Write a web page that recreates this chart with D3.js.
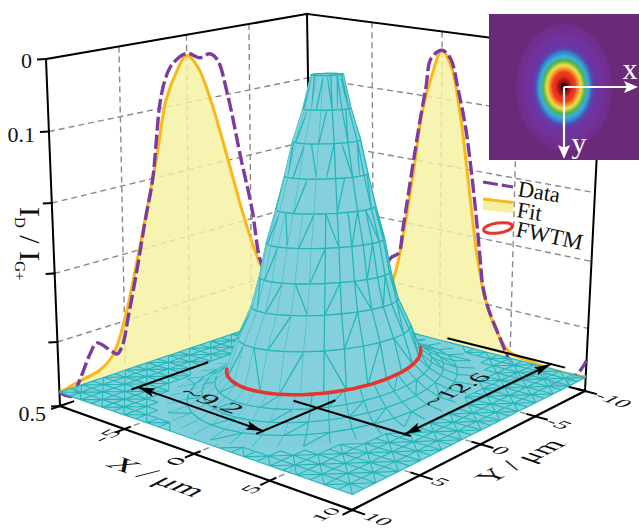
<!DOCTYPE html>
<html><head><meta charset="utf-8">
<script src="https://cdn.jsdelivr.net/npm/d3@7"></script>
<style>html,body{margin:0;padding:0;background:#fff}svg{display:block}text{font-family:"Liberation Serif",serif;fill:#111}</style>
</head><body><svg id="c" width="639" height="528"></svg>
<script>
// ---- values ----
const axisTicks=[-10,-5,0,5,10];
const gridTicks=[-5,0,5];
const depthTicks=[0,0.1,0.2,0.3,0.4,0.5];
const depthLabels=["0","0.1","","","","0.5"];
const floorDepth=0.477;
// profile on the X=-10 wall (along Y)
const leftFitY=[10,9.7,8.45,6.9,5.9,5,4,3.2,2.37,1.6,0.76,0,-0.85,-1.8,-3.18,-4.41,-5.7,-7,-8.5,-10];
const leftFitI=[0.477,0.476,0.47,0.463,0.446,0.399,0.318,0.247,0.169,0.089,0.05,0.03,0.05,0.1,0.198,0.291,0.374,0.43,0.465,0.477];
const leftDataY=[10,9.1,8.45,7.6,7.1,6.1,5.6,5.2,4.7,4,3.3,2.7,2.07,1.67,1.15,0,-1,-1.8,-2.4,-3.2,-4.25,-5.1,-5.7,-6.1,-7.2,-10];
const leftDataI=[0.477,0.49,0.468,0.432,0.42,0.438,0.447,0.437,0.395,0.33,0.258,0.201,0.092,0.06,0.04,0.027,0.037,0.034,0.045,0.1,0.203,0.284,0.367,0.389,0.44,0.476];
// profile on the Y=-10 wall (along X)
const rightFitX=[-10,-8,-6,-5,-4.2,-3.42,-3.13,-2.56,-1.88,-1.38,-0.72,0,0.65,1.32,1.72,2.13,2.55,2.78,3.17,4.04,4.95,6.5,8.1,10];
const rightFitI=[0.477,0.476,0.472,0.465,0.44,0.392,0.367,0.301,0.205,0.127,0.07,0.028,0.051,0.123,0.186,0.256,0.323,0.35,0.389,0.438,0.467,0.474,0.478,0.476];
const rightDataX=[-10,-7,-5,-3.67,-3.07,-2.72,-2.04,-1.58,-1.1,-0.74,0,0.57,1.14,1.66,2.06,2.48,2.83,3,3.38,4.25,5.2,5.67,6.5,6.96,7.6,8.3,9.45,10];
const rightDataI=[0.476,0.47,0.44,0.362,0.351,0.308,0.212,0.148,0.087,0.042,0.028,0.038,0.084,0.137,0.195,0.268,0.337,0.37,0.403,0.447,0.493,0.51,0.499,0.479,0.5,0.502,0.475,0.45];
// mesh rings of the beam surface: ellipse scale and depth of each ring
const ringScale=[0.16,0.24,0.34,0.42,0.505,0.60,0.67,0.75,0.89,1.0,1.12,1.25,1.4,1.6];
const ringDepth=[0.026,0.073,0.118,0.166,0.213,0.26,0.308,0.349,0.392,0.435,0.45,0.462,0.472,0.477];
const ringFlatten=[0.35,0.4,0.45,0.45,0.47,0.47,0.5,0.58,0.7,1,1,1,1,1];
const radiusX=4.37, radiusY=5.985;
const dimXRange=[-3.9,4.75], dimYRange=[6.3,-6.3];
const fwtmLabels=["~9.2","~12.6"];
const fwtmDepth=0.428;
const legendLabels=["Data","Fit","FWTM"];
// inset beam spot contours (half widths, colours)
const insetRadii=[47.6,41,34,29.5,27,25,22.7,20,18,16,13,7.5,4];
const insetColors=["#712e8e","#70309b","#6a36a6","#4a4fb0","#3a8ad0","#35b6e6","#46ad4a","#93c83e","#f6e760","#f7931e","#ee3124","#a31414","#3a0404"];

// ---- camera: corners of the floor and ceiling ----
const floorQuad=[[312,319],[585,391],[352,510],[60,406]];
const ceilQuad=[[307,14],[602,52],[362,118],[46,59]];
function quadMap(q){
  const [[x0,y0],[x1,y1],[x2,y2],[x3,y3]]=q;
  const dx1=x1-x2,dx2=x3-x2,dx3=x0-x1+x2-x3,dy1=y1-y2,dy2=y3-y2,dy3=y0-y1+y2-y3;
  const den=dx1*dy2-dx2*dy1,g=(dx3*dy2-dx2*dy3)/den,h=(dx1*dy3-dx3*dy1)/den;
  const a=x1-x0+g*x1,b=x3-x0+h*x3,d=y1-y0+g*y1,e=y3-y0+h*y3;
  return (u,v)=>{const w=g*u+h*v+1;return [(a*u+b*v+x0)/w,(d*u+e*v+y0)/w];};
}
const xyScale=d3.scaleLinear().domain([-10,10]).range([0,1]);
const heightScale=d3.scalePow().exponent(1.05).domain([0,0.5]).range([0,1]);
const mapFloor=quadMap(floorQuad), mapCeil=quadMap(ceilQuad);
function project(X,Y,I){
  const u=xyScale(X),v=xyScale(Y),f=heightScale(0.5-I);
  const a=mapFloor(u,v+0.12*v*(1-v)*(1-u)),b=mapCeil(u,v+0.05*v*(1-v)*(1-u));
  return [a[0]+(b[0]-a[0])*f,a[1]+(b[1]-a[1])*f];
}
const svg=d3.select("#c");
const pathOf=(pts,close)=>"M"+pts.map(p=>p[0].toFixed(2)+","+p[1].toFixed(2)).join("L")+(close?"Z":"");
const smooth=d3.line().curve(d3.curveCatmullRom.alpha(0.5));
function seg(g,p,q,cls){return g.append("line").attr("x1",p[0]).attr("y1",p[1]).attr("x2",q[0]).attr("y2",q[1]).attr("stroke",cls.c||"#000").attr("stroke-width",cls.w||2).attr("stroke-dasharray",cls.d||null).attr("stroke-linecap",cls.d?"butt":"square");}

// grids
const gGrid=svg.append("g");
const dash={c:"#8a8a8a",w:1.4,d:"6,4"};
depthTicks.slice(1,5).forEach(z=>{
  seg(gGrid,project(-10,10,z),project(-10,-10,z),dash);
  seg(gGrid,project(-10,-10,z),project(10,-10,z),dash);
});
gridTicks.forEach(t=>{
  seg(gGrid,project(-10,t,0),project(-10,t,0.47),dash);
  seg(gGrid,project(t,-10,0),project(t,-10,0.47),dash);
  seg(gGrid,project(t,10,0.5),project(t,8.2,0.5),dash);
  seg(gGrid,project(10,t,0.5),project(8.2,t,0.5),dash);
});
// box frame behind
const gBox=svg.append("g");
[[[-10,10,0],[-10,-10,0]],[[-10,-10,0],[10,-10,0]],[[-10,-10,0],[-10,-10,0.47]],
 [[-10,10,0],[-10,10,0.5]],[[10,-10,0],[10,-10,0.5]],[[-10,10,0.5],[-10,9,0.5]],[[9,-10,0.5],[10,-10,0.5]]]
 .forEach(e=>seg(gBox,project(...e[0]),project(...e[1]),{c:"#000",w:2}));

// wall profiles
const gWall=svg.append("g");
const leftFit=leftFitY.map((y,i)=>project(-10,y,leftFitI[i]));
const leftData=leftDataY.map((y,i)=>project(-10,y,leftDataI[i]));
const rightFit=rightFitX.map((x,i)=>project(x,-10,rightFitI[i]));
const rightData=rightDataX.map((x,i)=>project(x,-10,rightDataI[i]));
const yellow="#f5f09f", orange="#fbb61a", purple="#7a3c9e";
[leftFit,rightFit].forEach(c=>{
  gWall.append("path").attr("d",smooth(c)+"Z").attr("fill",yellow).attr("fill-opacity",0.82);
});
[leftFit,rightFit].forEach(c=>gWall.append("path").attr("d",smooth(c)).attr("fill","none").attr("stroke",orange).attr("stroke-width",3));
[leftData,rightData].forEach(c=>gWall.append("path").attr("d",smooth(c)).attr("fill","none").attr("stroke",purple).attr("stroke-width",3.4).attr("stroke-dasharray","14,4"));

// floor of the surface
const gMesh=svg.append("g");
const teal="#22b6b8", cyan="#84d0dd";
gMesh.append("path").attr("d",pathOf([[-10,-10],[10,-10],[10,10],[-10,10]].map(c=>project(c[0],c[1],floorDepth)),true))
  .attr("fill","#6fcbd8").attr("fill-opacity",0.88).attr("stroke","none");
const nCells=24, gridVals=d3.range(nCells+1).map(i=>-10+i*20/nCells);
const rx=radiusX, ry=radiusY, outer=ringScale[ringScale.length-1];
const outside=(x,y)=>Math.hypot(x/rx,y/ry)>=outer;
let gridPath="";
gridVals.forEach((x,i)=>gridVals.forEach((y,j)=>{
  const x2=gridVals[i+1],y2=gridVals[j+1];
  const P=(a,b)=>project(a,b,floorDepth);
  if(y2!==undefined&&outside(x,y)&&outside(x,y2)) gridPath+=pathOf([P(x,y),P(x,y2)]);
  if(x2!==undefined&&outside(x,y)&&outside(x2,y)) gridPath+=pathOf([P(x,y),P(x2,y)]);
  if(x2!==undefined&&y2!==undefined){
    if((i+j)%2===0){ if(outside(x,y)&&outside(x2,y2)) gridPath+=pathOf([P(x,y),P(x2,y2)]); }
    else { if(outside(x2,y)&&outside(x,y2)) gridPath+=pathOf([P(x2,y),P(x,y2)]); }
  }
}));
gMesh.append("path").attr("d",gridPath).attr("fill","none").attr("stroke",teal).attr("stroke-width",1.1);

// polar part of the surface, painted back to front
const coneRings=9;
function ringProject(k,s,n){
  const t=s/n*2*Math.PI+0.06,X=rx*ringScale[k]*Math.cos(t),Y=ry*ringScale[k]*Math.sin(t);
  const p=project(X,Y,ringDepth[k]),c=project(0,0,ringDepth[k]);
  return {p:[p[0],c[1]+(p[1]-c[1])*ringFlatten[k]],X,Y};
}
const cells=[];
for(let k=0;k<ringScale.length-1;k++){
  const n=k<coneRings?28:40;
  for(let s=0;s<n;s++){
    const q=[ringProject(k,s,n),ringProject(k,s+1,n),ringProject(k+1,s+1,n),ringProject(k+1,s,n)];
    cells.push({k,s,P:q.map(o=>o.p),key:d3.sum(q,o=>o.X+o.Y)/4});
  }
}
cells.sort((p,q)=>p.key-q.key);
const capPts=d3.range(28).map(s=>ringProject(0,s,28).p);
const gCone=svg.append("g");
let capDone=false;
function drawCap(){gCone.append("path").attr("d",pathOf(capPts,true)).attr("fill","#8fd4e0").attr("stroke",teal).attr("stroke-width",1.4);capDone=true;}
cells.forEach(c=>{
  if(!capDone&&c.key>0)drawCap();
  const P=c.P;
  const last=c.k===ringScale.length-2, flat=c.k>=coneRings;
  gCone.append("path").attr("d",pathOf(P,true)).attr("fill",flat?"#7ecfdb":cyan).attr("stroke",flat?"#7ecfdb":cyan).attr("stroke-width",last?0:0.5);
  let e=pathOf([P[0],P[1]]);
  if(!last)e+=pathOf([P[3],P[2]]);
  const coarse=c.k<4;
  if(!coarse||c.s%2===0)e+=pathOf([P[0],P[3]]);
  if(flat){ if((c.s+c.k)%4===0) e+=pathOf([P[0],P[2]]); }
  else if((c.s+c.k)%4===0)e+=pathOf([P[0],P[2]]);
  else if(((c.s-c.k)%4+4)%4===2)e+=pathOf([P[1],P[3]]);
  gCone.append("path").attr("d",e).attr("fill","none").attr("stroke",teal).attr("stroke-width",flat?1.05:1.25);
});

// FWTM ring (near half)
const ringAngles=d3.range(-52,134,4);
svg.append("path").attr("d",d3.line().curve(d3.curveCatmullRom)(ringAngles.map(a=>project(rx*Math.cos(a*Math.PI/180),ry*Math.sin(a*Math.PI/180),ringDepth[9]))))
  .attr("fill","none").attr("stroke","#e5352c").attr("stroke-width",3.6).attr("stroke-linecap","round");

// FWTM dimension marks
const gDim=svg.append("g");
function head(g,tip,tail,color,len,wid){
  const L=Math.hypot(tail[0]-tip[0],tail[1]-tip[1]),u=[(tail[0]-tip[0])/L,(tail[1]-tip[1])/L],n=[-u[1],u[0]];
  g.append("path").attr("d",pathOf([tip,[tip[0]+u[0]*len+n[0]*wid,tip[1]+u[1]*len+n[1]*wid],[tip[0]+u[0]*len*0.8,tip[1]+u[1]*len*0.8],[tip[0]+u[0]*len-n[0]*wid,tip[1]+u[1]*len-n[1]*wid]],true)).attr("fill",color);
}
function dim(p,q){seg(gDim,p,q,{c:"#000",w:2});head(gDim,p,q,"#000",17,4.5);head(gDim,q,p,"#000",17,4.5);}
const black={c:"#000",w:2};
dim(project(dimXRange[0],10,fwtmDepth),project(dimXRange[1],10.2,fwtmDepth));
dim(project(10,dimYRange[0],fwtmDepth),project(10,dimYRange[1],fwtmDepth));
seg(gDim,project(dimXRange[0],10.4,fwtmDepth),project(dimXRange[0],4.9,fwtmDepth),black);
seg(gDim,project(dimXRange[1],10.6,fwtmDepth),project(dimXRange[1],5,fwtmDepth),black);
seg(gDim,project(10.3,dimYRange[0],fwtmDepth),project(3.3,dimYRange[0],fwtmDepth),black);
seg(gDim,project(10.8,dimYRange[1],fwtmDepth),project(3.4,dimYRange[1],fwtmDepth),black);

// text lying on the floor plane
const dirX=[0.94,0.34], dirY=[0.89,-0.46], dirBack=[-0.94,-0.34];
function planeText(str,p,base,up,size,sx,sy,anchor){
  return svg.append("text").text(str).attr("font-size",size).attr("text-anchor",anchor||"middle").attr("dy","0.33em")
   .attr("transform",`matrix(${base[0]*sx},${base[1]*sx},${-up[0]*sy},${-up[1]*sy},${p[0]},${p[1]})`);
}
planeText(fwtmLabels[0],project(0.2,8.9,fwtmDepth),dirX,dirY,24,1.4,0.95);
planeText(fwtmLabels[1],project(8.4,0,fwtmDepth),dirY,dirBack,24,1.2,0.95);

// front axes
const gAxis=svg.append("g");
seg(gAxis,project(-10,10,0.5),project(10,10,0.5),{c:"#000",w:2.2});
seg(gAxis,project(10,10,0.5),project(10,-10,0.5),{c:"#000",w:2.2});
axisTicks.forEach(t=>{
  seg(gAxis,project(t,10,0.5),project(t,10.6,0.5),black);
  seg(gAxis,project(10,t,0.5),project(10.7,t,0.5),black);
  seg(gAxis,project(t,9.6,0.5),project(t,10,0.5),black);
  seg(gAxis,project(9.5,t,0.5),project(10,t,0.5),black);
  if(t>-10) planeText(String(t),t===10?project(9.4,11.1,0.5):project(t,11.3,0.5),dirY,dirBack,t===10?20:22,1.25,0.85);
  planeText(String(t),project(10.85,t,0.5),dirX,dirY,22,1.1,0.85,"start");
});
// depth axis
depthTicks.forEach((z,i)=>{
  const a=project(-10,10,z);
  seg(gAxis,a,[a[0]-8,a[1]+0.5],black);
  if(depthLabels[i]) svg.append("text").text(depthLabels[i]).attr("x",a[0]-14).attr("y",a[1]+9+12*z).attr("text-anchor","end").attr("font-size",22);
});
// titles
const yTitle=svg.append("text").attr("transform","translate(20,207) rotate(90)").attr("font-size",30);
[["I",0,0],["D",15,5],[" / ",30,-5],["I",0,0],["G+",15,5]].forEach(d=>{
  yTitle.append("tspan").text(d[0]).attr("font-size",d[1]||30).attr("dy",d[2]).attr("xml:space","preserve");
});
planeText("X / μm",[157,477],dirX,dirY,30,1.12,0.95);
planeText("Y / μm",[520,461],dirY,dirBack,30,1.02,0.95);

// legend
const gLeg=svg.append("g");
gLeg.append("path").attr("d","M483,201L513,204L513,213L483,210Z").attr("fill",yellow);
seg(gLeg,[483,182],[513,187],{c:purple,w:3.2,d:"15,4"});
seg(gLeg,[483,199],[513,202.5],{c:orange,w:3,d:null}).attr("stroke-linecap","butt");
gLeg.append("ellipse").attr("transform","translate(498,228) rotate(-8)").attr("rx",14.5).attr("ry",5).attr("fill","none").attr("stroke","#e5352c").attr("stroke-width",3);
[[517,196],[516,217],[515,236]].forEach((p,i)=>{
  gLeg.append("text").text(legendLabels[i]).attr("font-size",22.5).attr("transform",`translate(${p[0]},${p[1]}) rotate(${[9,9,12][i]})`);
});

// inset beam spot
const defs=svg.append("defs");
defs.append("clipPath").attr("id","ic").append("rect").attr("x",489).attr("y",14).attr("width",150).attr("height",146);
defs.append("filter").attr("id","bl").append("feGaussianBlur").attr("stdDeviation",1.1);
const gIn=svg.append("g").attr("clip-path","url(#ic)");
gIn.append("rect").attr("x",489).attr("y",14).attr("width",150).attr("height",146).attr("fill","#6a2a78");
const gSpot=gIn.append("g").attr("filter","url(#bl)");
insetRadii.forEach((r,i)=>{
  gSpot.append("ellipse").attr("cx",564).attr("cy",87).attr("rx",r).attr("ry",r*(i<5?1.33:1.28)).attr("fill",insetColors[i]);
});
const white={c:"#fff",w:2.2};
seg(gIn,[564,87],[628,87],white).attr("stroke-linecap","butt");
seg(gIn,[564,87],[564,148],white).attr("stroke-linecap","butt");
head(gIn,[638,87],[564,87],"#fff",14,6);
head(gIn,[564,159],[564,87],"#fff",14,6);
gIn.append("text").text("x").attr("x",630).attr("y",79).attr("text-anchor","middle").attr("font-size",30).style("fill","#fff");
gIn.append("text").text("y").attr("x",579).attr("y",153).attr("text-anchor","middle").attr("font-size",30).style("fill","#fff");
</script></body></html>
